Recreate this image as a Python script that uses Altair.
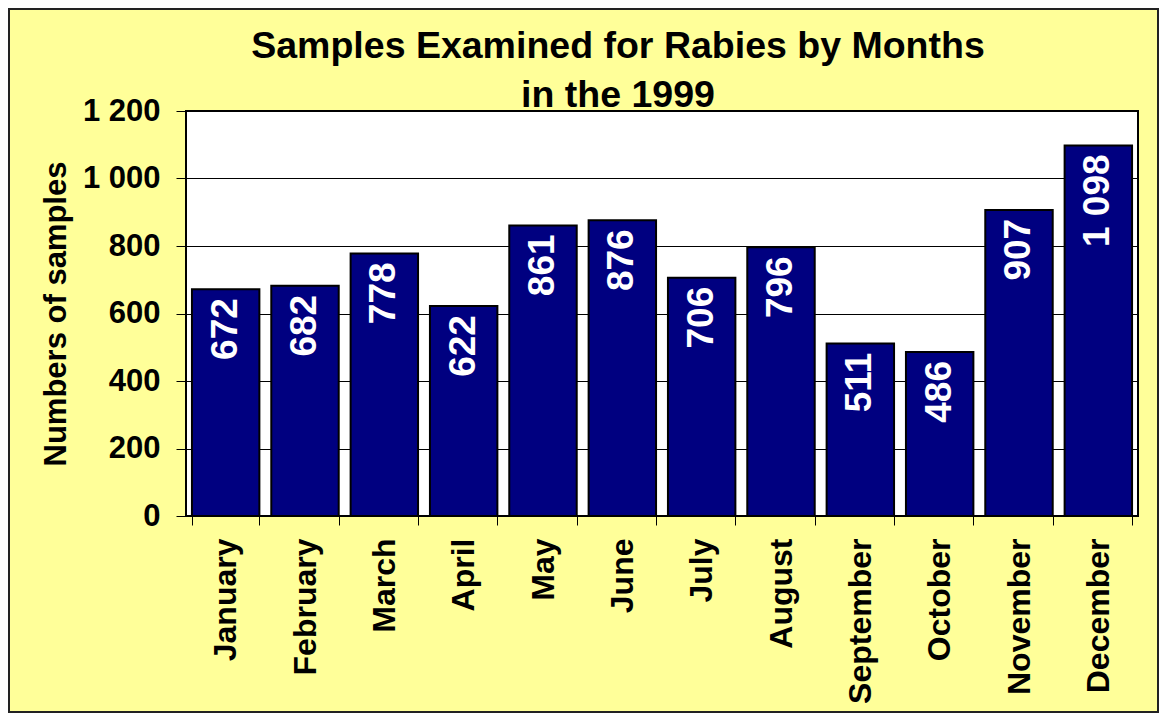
import altair as alt
import pandas as pd

months = ["January", "February", "March", "April", "May", "June",
          "July", "August", "September", "October", "November", "December"]
samples = [672, 682, 778, 622, 861, 876, 706, 796, 511, 486, 907, 1098]
y_ticks = [0, 200, 400, 600, 800, 1000, 1200]
title_lines = ["Samples Examined for Rabies by Months", "in the 1999"]
y_title = "Numbers of samples"

labels = [f"{v:,}".replace(",", " ") for v in samples]
df = pd.DataFrame({"month": months, "samples": samples, "label": labels})

FONT = "Liberation Sans"
W, H = 952, 405
PAD = {"left": 178, "top": 103, "right": 21, "bottom": 197}

base = alt.Chart(df).encode(
    x=alt.X("month:N", sort=months,
            scale=alt.Scale(paddingInner=0.15, paddingOuter=0.075),
            axis=alt.Axis(title=None, labelAngle=270, labelAlign="right",
                          labelBaseline="middle", labelFont=FONT,
                          labelFontSize=32, labelFontWeight="bold",
                          labelColor="black", labelPadding=13,
                          tickBand="extent", tickSize=9, tickColor="black",
                          domain=False, grid=False, labelLimit=0)),
    y=alt.Y("samples:Q",
            scale=alt.Scale(domain=[0, 1200], nice=False),
            axis=alt.Axis(values=y_ticks, title=y_title,
                          labelExpr="replace(format(datum.value, ','), ',', ' ')",
                          labelFont=FONT, labelFontSize=31, labelFontWeight="bold",
                          labelColor="black", labelPadding=16,
                          titleFont=FONT, titleFontSize=31, titleFontWeight="bold",
                          titleColor="black", titlePadding=10,
                          grid=True, gridColor="black", gridWidth=1,
                          tickSize=10, tickColor="black", domain=False)),
)

bars = base.mark_bar(color="#000080", stroke="black", strokeWidth=2)
text = base.mark_text(angle=270, align="right", baseline="middle", dx=-9,
                      color="white", font=FONT, fontSize=37,
                      fontWeight="bold").encode(text="label:N")

frame = alt.Chart(pd.DataFrame({"f": [0]})).mark_rect(
    filled=False, stroke="#222222", strokeWidth=2
).encode(
    x=alt.value(-PAD["left"] + 1), x2=alt.value(W + PAD["right"] - 1),
    y=alt.value(-PAD["top"] + 1), y2=alt.value(H + PAD["bottom"] - 1),
)

chart = alt.layer(bars, text, frame).properties(
    width=W, height=H,
    autosize=alt.AutoSizeParams(type="none"),
    padding=PAD,
    background="#FFFF99",
    title=alt.TitleParams(title_lines, font=FONT, fontSize=37.5,
                          fontWeight="bold", color="black",
                          anchor="middle", frame="group", dx=-44, dy=106,
                          lineHeight=49, offset=0),
).configure_view(stroke="black", strokeWidth=2, fill="white")

chart.save("out.html", embed_options={"renderer": "svg", "actions": False})
